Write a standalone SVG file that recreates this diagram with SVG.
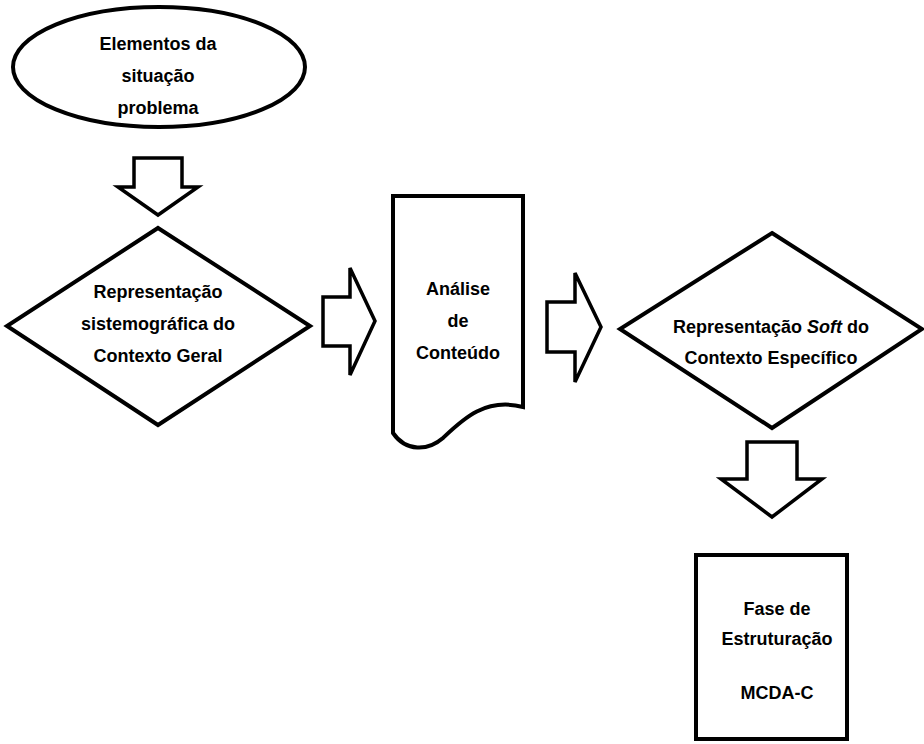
<svg xmlns="http://www.w3.org/2000/svg" width="924" height="744" viewBox="0 0 924 744">
  <style>
    .shape { fill: #ffffff; stroke: #000000; stroke-width: 4; stroke-linejoin: miter; }
    .arrow { fill: #ffffff; stroke: #000000; stroke-width: 3.5; stroke-linejoin: miter; }
    .label { font-family: "Liberation Sans", Arial, sans-serif; font-size: 18px; font-weight: bold; fill: #000000; text-anchor: middle; }
  </style>
  <rect width="924" height="744" fill="#ffffff"/>

  <g id="connectors">
    <!-- block arrow: ellipse to first diamond -->
    <path class="arrow" d="M134,158 H182 V187 H198 L158,215 L118,187 H134 Z"/>
    <!-- block arrow: first diamond to document -->
    <path class="arrow" d="M323,297 H350 V268 L375,321 L350,375 V346 H323 Z"/>
    <!-- block arrow: document to second diamond -->
    <path class="arrow" d="M547,302 H575 V273 L601,327 L575,382 V352 H547 Z"/>
    <!-- block arrow: second diamond to structuring box -->
    <path class="arrow" d="M747,442 H797 V479 H822 L772,517 L721,479 H747 Z"/>
  </g>

  <g id="node-elementos">
    <ellipse class="shape" cx="159" cy="67" rx="146" ry="60"/>
    <text class="label" x="158" y="50">Elementos da</text>
    <text class="label" x="158" y="82">situação</text>
    <text class="label" x="158" y="114">problema</text>
  </g>

  <g id="node-contexto-geral">
    <polygon class="shape" points="158,228 310,326 158,425 7,326"/>
    <text class="label" x="158" y="298">Representação</text>
    <text class="label" x="158" y="330">sistemográfica do</text>
    <text class="label" x="158" y="362">Contexto Geral</text>
  </g>

  <g id="node-analise">
    <path class="shape" d="M393,196 H523 V407 C485,397 462,420 443,438 C428,451 406,452 393,433 Z"/>
    <text class="label" x="458" y="295">Análise</text>
    <text class="label" x="458" y="327">de</text>
    <text class="label" x="458" y="359">Conteúdo</text>
  </g>

  <g id="node-contexto-especifico">
    <polygon class="shape" points="772,233 922,329 772,428 620,329"/>
    <text class="label" x="771" y="333">Representação <tspan font-style="italic">Soft</tspan> do</text>
    <text class="label" x="771" y="364">Contexto Específico</text>
  </g>

  <g id="node-estruturacao">
    <rect class="shape" x="696" y="555" width="151" height="184"/>
    <text class="label" x="777" y="615">Fase de</text>
    <text class="label" x="777" y="645">Estruturação</text>
    <text class="label" x="777" y="699">MCDA-C</text>
  </g>
</svg>
